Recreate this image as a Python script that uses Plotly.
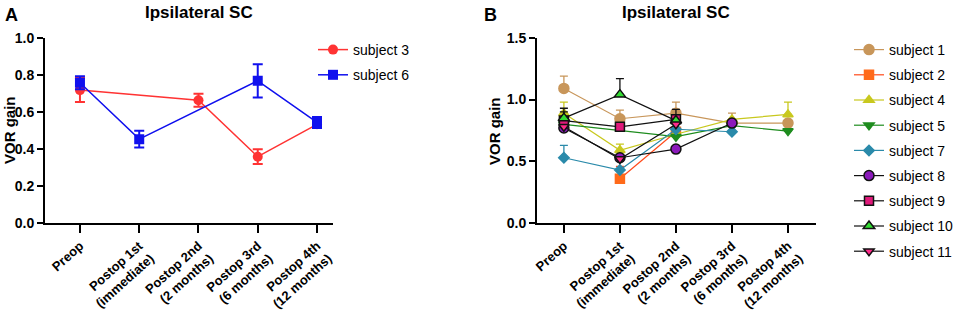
import plotly.graph_objects as go

# ---------------- data ----------------
timepoints = ["Preop", "Postop 1st<br>(immediate)", "Postop 2nd<br>(2 months)",
              "Postop 3rd<br>(6 months)", "Postop 4th<br>(12 months)"]

# Panel A
s3_mean = [0.72, None, 0.665, 0.36, 0.535]
s3_err = [0.065, 0, 0.035, 0.04, 0.02]
s6_mean = [0.76, 0.455, None, 0.77, 0.545]
s6_err = [0.035, 0.045, 0, 0.09, 0.03]

# Panel B (upper error only)
subjects_b = ["subject 1", "subject 2", "subject 4", "subject 5", "subject 7",
              "subject 8", "subject 9", "subject 10", "subject 11"]
b_means = [
    [1.09, 0.845, 0.89, 0.81, 0.81],
    [None, 0.36, 0.74, None, None],
    [0.89, 0.59, 0.72, 0.84, 0.88],
    [0.80, None, 0.70, 0.79, 0.745],
    [0.53, 0.43, 0.76, 0.74, None],
    [0.77, 0.53, 0.60, 0.81, None],
    [0.83, 0.78, 0.84, None, None],
    [0.85, 1.04, 0.83, None, None],
    [0.78, 0.52, 0.80, None, None],
]
b_errs = [
    [0.10, 0.07, 0.09, 0.08, 0.0],
    [0, 0.10, 0.0, 0, 0],
    [0.09, 0.05, 0.0, 0.0, 0.10],
    [0, 0, 0, 0, 0],
    [0.10, 0.0, 0, 0, 0],
    [0, 0, 0, 0, 0],
    [0.07, 0.0, 0.08, 0, 0],
    [0.08, 0.13, 0.0, 0, 0],
    [0, 0, 0, 0, 0],
]

# ---------------- styles ----------------
b_styles = [
    dict(line="#C8965A", fill="#C8965A", edge="#C8965A", symbol="circle", size=10),
    dict(line="#FF4A1A", fill="#FF6A1A", edge="#FF6A1A", symbol="square", size=9),
    dict(line="#C8C81E", fill="#C8C81E", edge="#C8C81E", symbol="triangle-up", size=9),
    dict(line="#1E8C1E", fill="#1E8C1E", edge="#1E8C1E", symbol="triangle-down", size=9),
    dict(line="#2A8AAA", fill="#2A8AAA", edge="#2A8AAA", symbol="diamond", size=8),
    dict(line="#111111", fill="#8B1ABB", edge="#111111", symbol="circle", size=10),
    dict(line="#111111", fill="#E0197A", edge="#111111", symbol="square", size=9),
    dict(line="#111111", fill="#33DD33", edge="#111111", symbol="triangle-up", size=10),
    dict(line="#111111", fill="#FF2A8A", edge="#111111", symbol="triangle-down", size=9),
]

W, H = 957, 315
def fx(p):
    return p / W
def fy(p):
    return 1 - p / H
def px_x(a, b):
    return [fx(a), fx(b)]
def px_y(top, bottom):
    return [fy(bottom), fy(top)]

FONT = "Arial, Liberation Sans, sans-serif"
fig = go.Figure()
xs = list(range(len(timepoints)))

# Panel A traces
fig.add_trace(go.Scatter(
    x=xs, y=s3_mean, name="subject 3", mode="lines+markers", connectgaps=True,
    legendgroup="s3",
    line=dict(color="#FF3333", width=1.5),
    marker=dict(symbol="circle", size=10, color="#FF3333"),
    error_y=dict(type="data", array=s3_err, color="#FF3333", thickness=2, width=5),
    xaxis="x", yaxis="y", legend="legend"))
fig.add_trace(go.Scatter(
    x=xs, y=s6_mean, name="subject 6", mode="lines+markers", connectgaps=True,
    legendgroup="s6",
    line=dict(color="#1010EE", width=1.5),
    marker=dict(symbol="square", size=10, color="#1010EE"),
    error_y=dict(type="data", array=s6_err, color="#1010EE", thickness=2, width=5),
    xaxis="x", yaxis="y", legend="legend"))

# Panel B traces
for i, (name, m, e, st) in enumerate(zip(subjects_b, b_means, b_errs, b_styles)):
    fig.add_trace(go.Scatter(
        x=xs, y=m, name=name, mode="lines+markers", connectgaps=True,
        legendgroup=name,
        line=dict(color=st["line"], width=1.2),
        marker=dict(symbol=st["symbol"], size=st["size"], color=st["fill"],
                    line=dict(color=st["edge"], width=1.5)),
        error_y=dict(type="data", symmetric=False, array=e, arrayminus=[0]*5,
                     color=st["line"], thickness=1.3, width=4),
        xaxis="x2", yaxis="y2", legend="legend2"))

ytickfont = dict(family=FONT, size=14, color="black")
xtickfont = dict(family=FONT, size=13, color="black")
axis_common = dict(showline=True, linecolor="black", linewidth=2, ticks="outside",
                   tickcolor="black", tickwidth=2, showgrid=False, zeroline=False,
                   automargin=False)

fig.update_layout(
    width=W, height=H,
    margin=dict(l=0, r=0, t=0, b=0, autoexpand=False),
    paper_bgcolor="white", plot_bgcolor="white",
    font=dict(family=FONT, color="black"),
    xaxis=dict(domain=px_x(45, 333), range=[-0.59, 4.27], tickmode="array",
               tickvals=xs, ticktext=["<b>%s</b>" % t for t in timepoints],
               tickangle=-42, ticklen=8, anchor="y", tickfont=xtickfont, **axis_common),
    yaxis=dict(domain=px_y(38.3, 223.3), range=[0, 1.0], tickvals=[0, 0.2, 0.4, 0.6, 0.8, 1.0],
               ticktext=["<b>%.1f</b>" % v for v in [0, 0.2, 0.4, 0.6, 0.8, 1.0]],
               ticklen=6, anchor="x", tickfont=ytickfont, **axis_common),
    xaxis2=dict(domain=px_x(537, 816), range=[-0.48, 4.5], tickmode="array",
                tickvals=xs, ticktext=["<b>%s</b>" % t for t in timepoints],
                tickangle=-42, ticklen=8, anchor="y2", tickfont=xtickfont, **axis_common),
    yaxis2=dict(domain=px_y(37.7, 223.3), range=[0, 1.5], tickvals=[0, 0.5, 1.0, 1.5],
                ticktext=["<b>%.1f</b>" % v for v in [0, 0.5, 1.0, 1.5]],
                ticklen=6, anchor="x2", tickfont=ytickfont, **axis_common),
    legend=dict(x=fx(313), y=fy(34), xanchor="left", yanchor="top",
                font=dict(size=14, family=FONT),
                bgcolor="rgba(0,0,0,0)", traceorder="grouped", tracegroupgap=4,
                itemwidth=30),
    legend2=dict(x=fx(849), y=fy(34), xanchor="left", yanchor="top",
                 font=dict(size=14, family=FONT),
                 bgcolor="rgba(0,0,0,0)", traceorder="grouped", tracegroupgap=4,
                 itemwidth=30),
    showlegend=True,
)

ann_font = dict(family=FONT, color="black")
fig.add_annotation(x=fx(3), y=fy(15), xref="paper", yref="paper", text="<b>A</b>",
                   showarrow=False, font=dict(size=18, **ann_font), xanchor="left", yanchor="middle")
fig.add_annotation(x=fx(482), y=fy(15), xref="paper", yref="paper", text="<b>B</b>",
                   showarrow=False, font=dict(size=18, **ann_font), xanchor="left", yanchor="middle")
fig.add_annotation(x=fx(199), y=fy(13), xref="paper", yref="paper", text="<b>Ipsilateral SC</b>",
                   showarrow=False, font=dict(size=17, **ann_font), xanchor="center", yanchor="middle")
fig.add_annotation(x=fx(676), y=fy(13), xref="paper", yref="paper", text="<b>Ipsilateral SC</b>",
                   showarrow=False, font=dict(size=17, **ann_font), xanchor="center", yanchor="middle")
fig.add_annotation(x=fx(9), y=fy(130), xref="paper", yref="paper", text="<b>VOR gain</b>",
                   showarrow=False, textangle=-90, font=dict(size=15, **ann_font),
                   xanchor="center", yanchor="middle")
fig.add_annotation(x=fx(494), y=fy(131), xref="paper", yref="paper", text="<b>VOR gain</b>",
                   showarrow=False, textangle=-90, font=dict(size=15, **ann_font),
                   xanchor="center", yanchor="middle")

fig.write_html("out.html", config={"displayModeBar": False},
               post_script="document.body.style.margin='0px';")
